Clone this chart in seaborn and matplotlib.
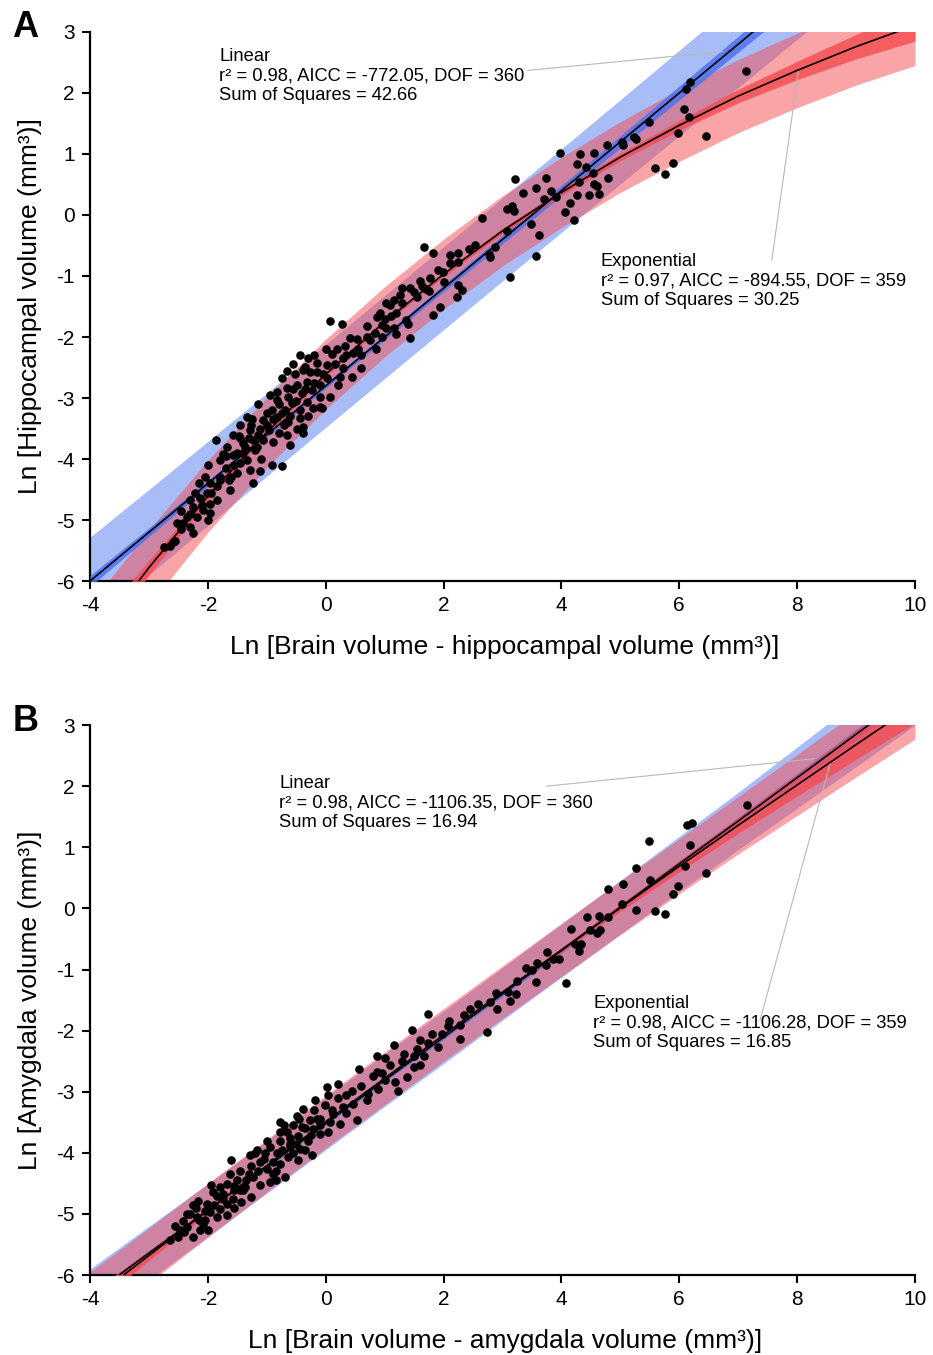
import numpy as np
import pandas as pd
import seaborn as sns
import matplotlib.pyplot as plt

# ---- fitted curves at integer Ln-brain values ----
grid_x = [-4, -3, -2, -1, 0, 1, 2, 3, 4, 5, 6, 7, 8, 9, 10]

# panel A: hippocampus
hip_lin_y = [-6.0, -5.2, -4.4, -3.6, -2.8, -2.0, -1.2, -0.4, 0.4, 1.2, 2.0, 2.8, 3.6, 4.4, 5.2]
hip_lin_pred = [0.72, 0.70, 0.69, 0.68, 0.68, 0.68, 0.68, 0.68, 0.685, 0.69, 0.70, 0.71, 0.72, 0.73, 0.75]
hip_lin_conf = [0.09, 0.07, 0.05, 0.04, 0.04, 0.045, 0.055, 0.07, 0.085, 0.10, 0.115, 0.13, 0.145, 0.16, 0.175]
hip_exp_y = [-7.06, -5.78, -4.61, -3.56, -2.61, -1.75, -0.97, -0.26, 0.37, 0.95, 1.47, 1.95, 2.37, 2.76, 3.11]
hip_exp_pred = [0.68, 0.62, 0.59, 0.575, 0.575, 0.575, 0.575, 0.575, 0.575, 0.58, 0.59, 0.60, 0.61, 0.63, 0.66]
hip_exp_conf = [0.25, 0.12, 0.07, 0.05, 0.04, 0.04, 0.04, 0.045, 0.05, 0.06, 0.08, 0.11, 0.15, 0.20, 0.26]

# panel B: amygdala
amy_lin_y = [-6.35, -5.64, -4.94, -4.23, -3.52, -2.81, -2.11, -1.40, -0.69, 0.02, 0.73, 1.43, 2.14, 2.85, 3.56]
amy_lin_pred = [0.45, 0.44, 0.435, 0.43, 0.43, 0.43, 0.43, 0.43, 0.435, 0.44, 0.45, 0.47, 0.50, 0.53, 0.56]
amy_lin_conf = [0.05, 0.04, 0.03, 0.025, 0.025, 0.025, 0.03, 0.035, 0.04, 0.045, 0.05, 0.06, 0.07, 0.08, 0.09]
amy_exp_y = [-6.42, -5.68, -4.94, -4.21, -3.49, -2.78, -2.07, -1.37, -0.68, 0.01, 0.69, 1.36, 2.02, 2.68, 3.33]
amy_exp_pred = [0.47, 0.45, 0.44, 0.43, 0.43, 0.43, 0.43, 0.43, 0.435, 0.44, 0.45, 0.47, 0.50, 0.53, 0.56]
amy_exp_conf = [0.12, 0.08, 0.05, 0.035, 0.03, 0.03, 0.03, 0.03, 0.04, 0.06, 0.09, 0.13, 0.18, 0.24, 0.30]

# ---- species points (Ln brain - structure, Ln structure) ----
hip_x = [7.14, 6.19, 6.11, 6.08, 6.17, 5.97, 6.45, 5.49, 5.58, 5.76, 5.90, 5.26, 5.23, 5.02, 5.04,
         4.77, 4.56, 4.32, 3.98, 4.26, 4.41, 4.53, 4.79, 4.30, 4.56, 4.61, 4.64, 4.47, 4.26, 4.15,
         4.06, 4.21, 3.90, 3.70, 3.82, 3.57, 3.73, 3.35, 3.21, 3.08, 3.16, 3.20, 3.48, 3.62, 3.07,
         3.56, 3.13, 2.66, 2.43, 2.54, 2.77, 2.78, 2.88,
         1.66, 1.82, 2.11, 2.25, 2.11, 2.25, 1.91, 1.99, 1.77, 1.60, 1.63, 1.71, 1.43, 1.49, 1.29,
         1.26, 1.15, 1.03, 1.09, 0.92, 0.87, 0.70, 1.37, 1.82, 1.94, 2.25, 2.22, 2.31, 1.03, 1.15, 0.27,
         0.08, -0.44, 0.84, 0.41, 0.53, 0.33, 0.47, 0.86, 0.10, 0.19, -0.15, 0.02, 0.30, 0.44, 0.21,
         0.07, -0.10, -0.07, -0.21, -0.32, -0.41, -0.32, -0.49, -0.27, -0.38, -0.52, -0.75, -0.66, -0.83,
         -0.64, -0.58, -0.44, -0.44, -0.69, -0.92, -0.83, -1.06, -1.34, -1.26, -1.12, -0.97, -0.80, -0.66,
         -0.49, -0.38, -0.38, -0.61, -0.89, -1.06, -1.23, -1.57, -1.45, -1.68, -1.37, -1.17, -0.64, -0.83,
         -1.00, -0.10, -0.24, 0.02, -0.35, -0.15,
         -1.86, -1.74, -1.79, -1.57, -1.45, -1.34, -1.51, -1.28, -1.23, -1.65, -1.79, -1.85, -1.96, -2.05,
         -1.62, -2.02, -2.13, -1.96, -1.85, -2.25, -2.08, -1.96, -2.36, -2.19, -2.42, -2.30, -2.53, -2.25,
         -2.22, -2.30, -2.59, -2.64, -1.28, -1.20, -1.40, -1.48,
         1.43, -0.10, -0.75, -0.92, -1.12, -2.56, 1.40, -2.75,
         -0.20, -0.55, 0.60, 0.75, 1.00, 1.20, 0.95, -0.95, -1.15, -0.30, 0.30, -0.70, -1.50, -1.70,
         -2.00, -1.10, -2.45, -2.00,
         -2.45, -2.30, -2.10, -1.95, -1.80, -1.70, -1.55, -1.40, -1.30, -1.15, -1.00, -0.90, -0.75, -0.60,
         -0.50, -0.35, -0.20, -0.05, 0.15, 0.35, 0.55, 0.70, 0.95, 1.10, 1.30, 1.55, 1.75, 2.00,
         -0.55, -0.80, -1.25, -0.30, 0.00, -0.65, -1.45, -1.60, -2.15, 0.25, 0.60, 1.20]
hip_y = [2.36, 2.18, 2.07, 1.74, 1.60, 1.34, 1.29, 1.53, 0.77, 0.68, 0.86, 1.24, 1.28, 1.20, 1.14,
         1.15, 1.01, 1.00, 1.01, 0.84, 0.79, 0.69, 0.61, 0.54, 0.50, 0.48, 0.35, 0.32, 0.33, 0.19,
         0.05, -0.09, 0.30, 0.26, 0.39, 0.45, 0.60, 0.36, 0.59, 0.10, 0.15, 0.07, -0.15, -0.33, -0.26,
         -0.68, -1.02, -0.05, -0.55, -0.49, -0.64, -0.69, -0.52,
         -0.53, -0.62, -0.66, -0.63, -0.79, -0.77, -0.90, -0.93, -1.04, -1.09, -1.17, -1.22, -1.20, -1.26, -1.20,
         -1.31, -1.39, -1.45, -1.48, -1.61, -1.67, -1.82, -1.72, -1.64, -1.50, -1.15, -1.34, -1.23, -1.86, -1.86, -1.78,
         -1.73, -2.30, -1.94, -2.02, -2.04, -2.15, -2.27, -2.20, -2.28, -2.20, -2.43, -2.46, -2.51, -2.65, -2.79,
         -2.98, -2.98, -3.17, -3.17, -3.06, -2.92, -2.73, -2.79, -2.57, -2.54, -2.60, -2.68, -2.84, -2.90,
         -2.98, -3.09, -3.20, -3.33, -3.20, -3.20, -3.31, -3.36, -3.31, -3.44, -3.50, -3.52, -3.58, -3.61,
         -3.50, -3.47, -3.58, -3.77, -3.72, -3.69, -3.69, -3.61, -3.66, -3.80, -3.80, -3.80, -3.39, -3.03,
         -3.25, -2.79, -2.87, -2.68, -2.49, -2.57,
         -3.69, -3.91, -4.02, -3.93, -4.07, -4.02, -4.23, -4.18, -4.40, -4.34, -4.29, -4.45, -4.40, -4.29,
         -4.51, -4.56, -4.64, -4.73, -4.67, -4.78, -4.84, -4.89, -4.95, -4.95, -5.05, -5.11, -5.05, -5.22,
         -4.56, -4.67, -5.36, -5.43, -3.52, -3.85, -3.74, -3.63,
         -2.01, -3.15, -4.11, -4.10, -4.20, -5.34, -1.78, -5.45,
         -2.30, -2.45, -2.30, -2.05, -1.70, -1.60, -2.00, -2.95, -3.10, -3.30, -2.35, -3.45, -3.90, -4.15,
         -4.10, -4.00, -4.85, -5.00,
         -5.15, -4.90, -4.75, -4.55, -4.35, -3.95, -4.10, -3.90, -3.65, -3.60, -3.45, -3.35, -3.25, -3.30,
         -3.05, -2.85, -2.75, -2.60, -2.45, -2.30, -2.20, -2.00, -1.80, -1.65, -1.45, -1.35, -1.25, -1.10,
         -2.85, -3.10, -3.35, -2.35, -2.20, -2.55, -3.45, -4.30, -4.40, -2.65, -2.50, -1.95]

amy_x = [7.15, 6.13, 6.21, 6.18, 6.10, 6.45, 5.97, 5.90, 5.49, 5.26, 5.51, 5.04, 4.79, 5.02, 5.27,
         5.58, 5.76, 4.43, 4.64, 4.79, 4.16, 4.48, 4.60, 4.65, 4.23, 4.29, 4.34, 4.30, 4.08, 3.76,
         3.86, 3.96, 3.58, 3.73, 3.40, 3.50, 3.57, 3.24, 3.09, 3.23, 3.13, 2.89, 2.78, 2.91, 2.59,
         2.45, 2.74,
         1.74, 2.28, 2.08, 1.97, 2.28, 1.46, 1.60, 1.74, 1.91, 1.15, 1.32, 1.49, 1.66, 1.60, 1.49,
         0.87, 1.09, 0.87, 0.56, 1.18, 1.38, 1.23, 0.21, 0.44, 0.72, 0.89, 0.04, 0.30, 0.13, -0.01,
         -0.15, 0.07, 0.24, -0.38, -0.49, -0.27, -0.55, -0.41, -0.21, -0.10, 0.04, -0.78, -0.66, -0.47,
         -0.30, -0.24, -0.44, -0.61, -0.78, -1.00, -0.95, -0.83, -0.64, -0.47, -0.78, -1.03, -1.17, -1.28,
         -1.12, -1.26, -1.00, -0.89, -0.69, -0.95, -1.12, -1.26, -1.45, -1.60, -1.62, -1.51, -1.37, -1.68,
         -1.79, -1.91, -1.74, -1.57, -1.43, -1.94, -1.68, -1.79, -1.68, -1.85, -1.96, -2.02, -2.16, -2.25,
         -2.30, -2.19, -2.08, -1.99, -2.13, -2.25, -2.36, -2.42, -2.47, -2.50, -2.64, -1.23, -0.78, 0.53,
         0.70, 0.47, -0.18, 0.02,
         -0.60, -0.20, 0.35, 0.95, -1.40, -0.10, 1.00, -2.05, -1.55, -0.85,
         -2.55, -2.35, -2.20, -2.05, -1.90, -1.75, -1.55, -1.45, -1.30, -1.15, -1.05, -0.90, -0.75, -0.60,
         -0.50, -0.35, -0.25, -0.10, 0.10, 0.20, 0.35, -0.45, -0.70, -1.20, -1.35, -1.85, -2.15, -2.40,
         0.60, 0.80, 1.00, 1.30, 1.55, 1.80, 2.10, 2.35, -0.55, -0.35, -1.55, -0.85]
amy_y = [1.69, 1.36, 1.40, 1.03, 0.69, 0.58, 0.37, 0.24, 1.10, 0.66, 0.47, 0.40, 0.32, 0.08, -0.03,
         -0.05, -0.09, -0.14, -0.13, -0.14, -0.33, -0.36, -0.40, -0.36, -0.58, -0.62, -0.59, -0.69, -1.22, -0.72,
         -0.82, -0.82, -0.90, -0.92, -0.98, -1.00, -1.21, -1.18, -1.37, -1.40, -1.51, -1.39, -1.53, -1.64, -1.57,
         -1.64, -2.03,
         -1.72, -1.91, -1.93, -2.05, -2.13, -1.99, -2.15, -2.21, -2.27, -2.24, -2.38, -2.41, -2.41, -2.57, -2.60,
         -2.41, -2.57, -2.68, -2.62, -2.84, -2.76, -2.98, -2.87, -2.98, -3.03, -2.95, -3.06, -3.25, -3.36, -3.22,
         -3.44, -3.50, -3.52, -3.28, -3.39, -3.47, -3.55, -3.58, -3.61, -3.69, -3.66, -3.50, -3.66, -3.72,
         -3.80, -4.04, -3.93, -3.88, -3.80, -3.80, -3.91, -4.01, -4.07, -4.12, -4.18, -4.01, -3.96, -4.04,
         -4.15, -4.21, -4.26, -4.34, -4.40, -4.48, -4.53, -4.73, -4.29, -4.12, -4.34, -4.45, -4.56, -4.51,
         -4.56, -4.64, -4.67, -4.75, -4.81, -4.53, -4.83, -4.92, -5.02, -5.05, -4.97, -4.83, -4.78, -4.86,
         -5.00, -5.05, -5.16, -5.27, -5.27, -5.38, -5.22, -5.11, -5.27, -5.38, -5.43, -4.40, -3.66, -3.47,
         -3.14, -3.20, -3.14, -2.92,
         -3.85, -3.30, -3.05, -2.70, -4.60, -3.55, -2.45, -5.10, -4.60, -4.30,
         -5.20, -5.00, -4.90, -4.95, -4.85, -4.75, -4.55, -4.60, -4.35, -4.30, -4.10, -4.15, -3.95, -3.75,
         -3.85, -3.60, -3.70, -3.45, -3.30, -3.10, -3.35, -3.45, -3.55, -4.00, -4.45, -4.70, -5.10, -5.30,
         -2.90, -2.75, -2.80, -2.50, -2.30, -2.05, -1.85, -1.75, -4.00, -3.95, -4.90, -4.45]

# annotation texts
hip_lin_txt = "Linear\nr\u00b2 = 0.98, AICC = -772.05, DOF = 360\nSum of Squares = 42.66"
hip_exp_txt = "Exponential\nr\u00b2 = 0.97, AICC = -894.55, DOF = 359\nSum of Squares = 30.25"
amy_lin_txt = "Linear\nr\u00b2 = 0.98, AICC = -1106.35, DOF = 360\nSum of Squares = 16.94"
amy_exp_txt = "Exponential\nr\u00b2 = 0.98, AICC = -1106.28, DOF = 359\nSum of Squares = 16.85"

BLUE_LIGHT = "#a8bdf7"
BLUE_DARK = "#4f72ee"
RED = "#f44b50"
LEADER = "#b8b8b8"

sns.set_theme(style="ticks")
plt.rcParams["font.family"] = ["Liberation Sans", "DejaVu Sans"]
plt.rcParams["axes.unicode_minus"] = False
plt.rcParams["text.color"] = "black"
plt.rcParams["axes.labelcolor"] = "black"


def draw_panel(ax, lin_y, lin_pred, lin_conf, exp_y, exp_pred, exp_conf, px, py):
    gx = np.array(grid_x, dtype=float)
    ly, lp, lc = np.array(lin_y), np.array(lin_pred), np.array(lin_conf)
    ey, ep, ec = np.array(exp_y), np.array(exp_pred), np.array(exp_conf)

    ax.fill_between(gx, ly - lp, ly + lp, color=BLUE_LIGHT, lw=0, zorder=1)
    ax.fill_between(gx, ey - ep, ey + ep, color=RED, alpha=0.5, lw=0, zorder=2)
    ax.fill_between(gx, ly - lc, ly + lc, color=BLUE_DARK, alpha=0.85, lw=0, zorder=3)
    ax.fill_between(gx, ey - ec, ey + ec, color=RED, alpha=0.8, lw=0, zorder=3)

    sns.lineplot(x=gx, y=ly, color="black", lw=1.2, ax=ax, zorder=5)
    sns.lineplot(x=gx, y=ey, color="black", lw=1.2, ax=ax, zorder=5)
    pts = pd.DataFrame({"x": px, "y": py})
    sns.scatterplot(data=pts, x="x", y="y", color="black", s=38, linewidth=0, ax=ax, zorder=6)

    ax.set_xlim(-4, 10)
    ax.set_ylim(-6, 3)
    ax.set_xticks(range(-4, 11, 2))
    ax.set_yticks(range(-6, 4))
    sns.despine(ax=ax)
    for s in ["left", "bottom"]:
        ax.spines[s].set_linewidth(1.6)
        ax.spines[s].set_color("black")
    ax.tick_params(direction="out", length=6, width=1.5, labelsize=15, pad=5,
                   colors="black", labelcolor="black")


fig = plt.figure(figsize=(9.33, 13.55), dpi=100)
axA = fig.add_axes([0.0965, 0.5712, 0.8842, 0.4052])
axB = fig.add_axes([0.0965, 0.0590, 0.8842, 0.4059])

draw_panel(axA, hip_lin_y, hip_lin_pred, hip_lin_conf, hip_exp_y, hip_exp_pred, hip_exp_conf, hip_x, hip_y)
draw_panel(axB, amy_lin_y, amy_lin_pred, amy_lin_conf, amy_exp_y, amy_exp_pred, amy_exp_conf, amy_x, amy_y)

tk = dict(fontsize=13.2, va="top", ha="left", linespacing=1.2, zorder=7)
axA.text(-1.81, 2.74, hip_lin_txt, **tk)
axA.text(4.67, -0.62, hip_exp_txt, **tk)
axB.text(-0.79, 2.18, amy_lin_txt, **tk)
axB.text(4.54, -1.42, amy_exp_txt, **tk)

lk = dict(color=LEADER, lw=0.8, zorder=4)
axA.plot([3.43, 6.74], [2.37, 2.68], **lk)
axA.plot([7.57, 8.02], [-0.74, 2.35], **lk)
axB.plot([3.75, 8.30], [2.0, 2.45], **lk)
axB.plot([7.37, 8.56], [-1.83, 2.37], **lk)

axA.set_xlabel("Ln [Brain volume - hippocampal volume (mm\u00b3)]", fontsize=19)
axA.set_ylabel("Ln [Hippocampal volume (mm\u00b3)]", fontsize=19)
axB.set_xlabel("Ln [Brain volume - amygdala volume (mm\u00b3)]", fontsize=19)
axB.set_ylabel("Ln [Amygdala volume (mm\u00b3)]", fontsize=19)
for ax in (axA, axB):
    ax.xaxis.set_label_coords(0.503, -0.098)
    ax.yaxis.set_label_coords(-0.058, 0.5)

fig.text(0.013, 1 - 10 / 1355, "A", fontsize=26, fontweight="bold", va="top")
fig.text(0.013, 1 - 704 / 1355, "B", fontsize=26, fontweight="bold", va="top")

fig.savefig("out.png", dpi=100)
